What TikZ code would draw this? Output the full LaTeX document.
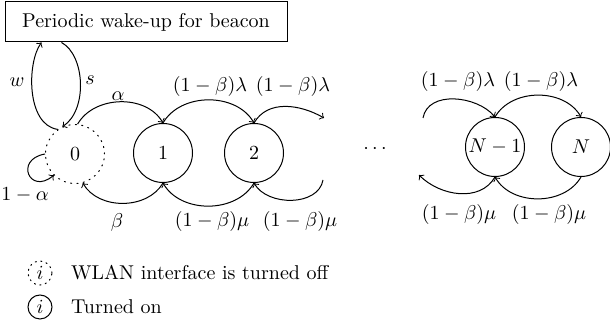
\documentclass[tikz,border=0pt]{standalone}
\begin{document}
\begin{tikzpicture}[x=0.5pt,y=0.5pt,line width=0.5pt,
  on/.style={draw,circle,minimum size=29.5pt,inner sep=0pt},
  off/.style={on,dash pattern=on 0.6pt off 2.6pt,line cap=round},
  key/.style={draw,circle,minimum size=12pt,inner sep=0pt},
  keyoff/.style={key,dash pattern=on 0.6pt off 2.2pt,line cap=round}]
\useasboundingbox (0,0) rectangle (610,330);
% wake-up box
\node[draw,minimum width=141pt,minimum height=20pt] (box) at (146,308) {Periodic wake-up for beacon};
% states
\node[off] (s0) at (75,176) {0};
\node[on] (s1) at (163,177) {1};
\node[on] (s2) at (254,177) {2};
\node (dots) at (375,181) {$\cdots$};
\node[on] (sN1) at (495,183) {$N-1$};
\node[on] (sN) at (581,183) {$N$};
\coordinate (up1) at (324,212);
\coordinate (up2) at (423,212);
\coordinate (lo1) at (419,155);
\coordinate (lo2) at (323,150);
% wake-up loop
\draw[->] (s0.125) .. controls (26,205) and (27,268) .. ([xshift=18.5pt]box.south west);
\draw[->] ([xshift=28.5pt]box.south west) .. controls (85,275) and (88,220) .. (s0.115);
\node (w) at (17,248) {$w$};
\node (s) at (90,250) {$s$};
% self loop
\draw[->] (s0.west) to[out=190,in=-140,looseness=3.5] (s0.-135);
\node (l0) at (25,135) {$1-\alpha$};
% upper arcs
\draw[->] (s0.85) to[out=60,in=120] (s1.north);
\draw[->] (s1.north) to[out=60,in=120] (s2.north);
\draw[->] (s2.north) to[out=60,in=150] (up1);
\draw[->] (up2) to[out=80,in=130] (sN1.north);
\draw[->] (sN1.north) to[out=60,in=120] (sN.north);
\node (a) at (118,234) {$\alpha$};
\node (l1) at (210,243) {$(1-\beta)\lambda$};
\node (l2) at (293,243) {$(1-\beta)\lambda$};
\node (l3) at (458,248) {$(1-\beta)\lambda$};
\node (l4) at (541,248) {$(1-\beta)\lambda$};
% lower arcs
\draw[->] (sN.south) to[out=-120,in=-60] (sN1.south);
\draw[->] (sN1.south) to[out=-120,in=-45] (lo1);
\draw[->] (lo2) to[out=-100,in=-60] (s2.south);
\draw[->] (s2.south) to[out=-120,in=-60] (s1.south);
\draw[->] (s1.south) to[out=-120,in=-60] (s0.-75);
\node (b) at (117,107) {$\beta$};
\node (m1) at (212,108) {$(1-\beta)\mu$};
\node (m2) at (300,108) {$(1-\beta)\mu$};
\node (m3) at (459,115) {$(1-\beta)\mu$};
\node (m4) at (549,115) {$(1-\beta)\mu$};
% legend
\node[keyoff] (koff) at (40,57) {$i$};
\node[anchor=west] (toff) at (64,57) {WLAN interface is turned off};
\node[key] (kon) at (40,23) {$i$};
\node[anchor=west] (ton) at (64,23) {Turned on};
\end{tikzpicture}
\end{document}
